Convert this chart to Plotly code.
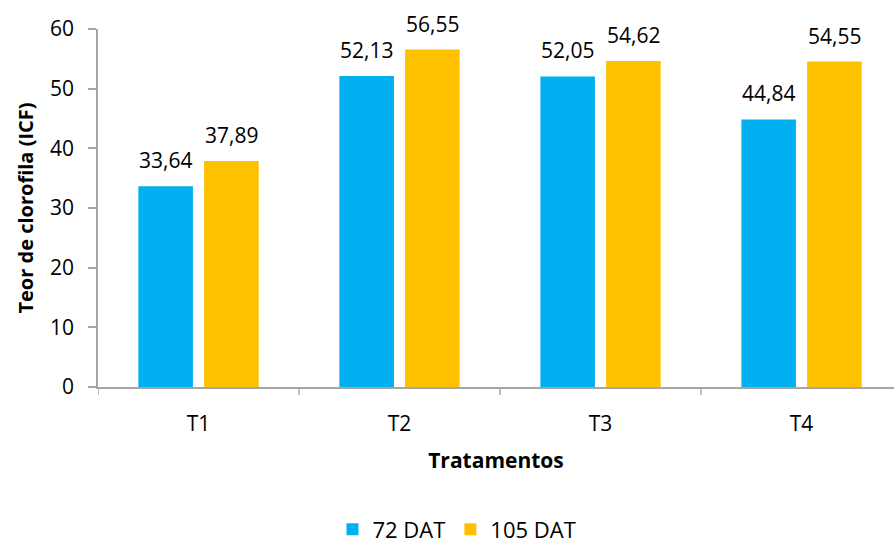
import plotly.graph_objects as go

tratamentos = ["T1", "T2", "T3", "T4"]
dat72 = [33.64, 52.13, 52.05, 44.84]
dat105 = [37.89, 56.55, 54.62, 54.55]
series_names = ["72 DAT", "105 DAT"]
colors = ["#00B0F0", "#FFC000"]

FONT = "Open Sans"
AXIS_GRAY = "#A6A6A6"

def br(v):
    return f"{v:.2f}".replace(".", ",")

fig = go.Figure()
for name, vals, col in zip(series_names, [dat72, dat105], colors):
    fig.add_trace(go.Bar(x=tratamentos, y=vals, name=name, marker_color=col,
                         marker_line_width=0))

# value labels above each bar
for vals, shift in [(dat72, -33), (dat105, 33)]:
    for cat, v in zip(tratamentos, vals):
        fig.add_annotation(x=cat, y=v, text=br(v), showarrow=False,
                           xshift=shift, yshift=10, yanchor="bottom",
                           font=dict(family=FONT, size=21, color="#000"))

fig.update_layout(
    width=894, height=543,
    margin=dict(l=98, r=0, t=29, b=156, autoexpand=False),
    plot_bgcolor="white", paper_bgcolor="white",
    barmode="group", bargap=0.346, bargroupgap=0.17,
    font=dict(family=FONT, size=21, color="#000"),
    showlegend=True,
    legend=dict(orientation="h", x=0.451, xanchor="center", y=-0.398,
                yanchor="middle", font=dict(family=FONT, size=22),
                itemwidth=30, traceorder="normal"),
    xaxis=dict(range=[-0.5, 3.46], showline=True, linecolor=AXIS_GRAY,
               linewidth=1.5, ticks="", ticklabelstandoff=17,
               tickfont=dict(family=FONT, size=21),
               title=dict(text="<b>Tratamentos</b>", font=dict(family=FONT, size=21),
                          standoff=17)),
    yaxis=dict(range=[0, 60], dtick=10, showline=True, linecolor=AXIS_GRAY,
               linewidth=1.5, ticks="outside", ticklen=8, tickcolor=AXIS_GRAY,
               tickwidth=1.5, ticklabelstandoff=10,
               showgrid=False, zeroline=False,
               tickfont=dict(family=FONT, size=21),
               title=dict(text="<b>Teor de clorofila (ICF)</b>",
                          font=dict(family=FONT, size=20), standoff=11)),
)

# category separator ticks on the x axis
for k in range(4):
    fig.add_shape(type="line", xref="x", yref="paper", x0=k - 0.5, x1=k - 0.5,
                  y0=0, y1=-0.022, line=dict(color=AXIS_GRAY, width=1.5))

fig.write_html("out.html")
